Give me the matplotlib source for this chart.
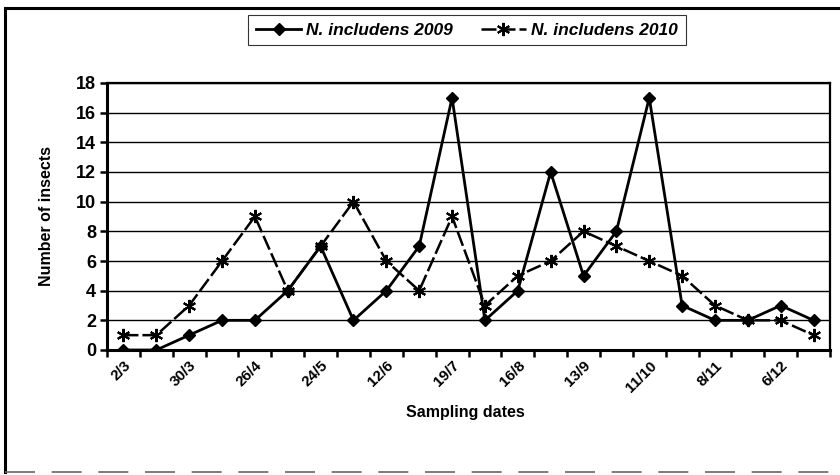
import numpy as np
import matplotlib
matplotlib.use("Agg")
import matplotlib.pyplot as plt
from matplotlib.lines import Line2D

# Data
dates = ["2/3", "30/3", "26/4", "24/5", "12/6", "19/7", "16/8", "13/9", "11/10", "8/11", "6/12"]
insects_2009 = [0, 0, 1, 2, 2, 4, 7, 2, 4, 7, 17, 2, 4, 12, 5, 8, 17, 3, 2, 2, 3, 2]
insects_2010 = [1, 1, 3, 6, 9, 4, 7, 10, 6, 4, 9, 3, 5, 6, 8, 7, 6, 5, 3, 2, 2, 1]

plt.rcParams['font.family'] = ['Liberation Sans', 'DejaVu Sans']

fig = plt.figure(figsize=(8.4, 4.75), dpi=100)
ax = fig.add_axes([107 / 840, 125 / 475, 723 / 840, 267 / 475])

x = np.arange(len(insects_2009))
l1, = ax.plot(x, insects_2009, color="black", lw=2, marker="D", ms=6,
              label="N. includens 2009", zorder=4)
l2, = ax.plot(x, insects_2010, color="black", lw=1.8, dashes=(6, 1.6),
              marker=(6, 2, 0), ms=9.5, mew=1.5, label="N. includens 2010", zorder=3)

ax.set_xlim(-0.5, len(x) - 0.5)
ax.set_ylim(0, 18)
ax.set_yticks(np.arange(0, 19, 2))
ax.yaxis.grid(True, color="black", lw=1)
ax.set_axisbelow(True)

# categories: ticks between points, label on every second point
ax.set_xticks(np.arange(0, len(x), 2))
ax.set_xticklabels(dates, rotation=45, ha="right", rotation_mode="anchor",
                   fontsize=11, fontweight="bold")
ax.set_xticks(np.arange(-0.5, len(x), 1), minor=True)
ax.tick_params(axis="x", which="major", length=0, pad=6)
ax.tick_params(axis="x", which="minor", length=5, width=1.8, direction="out")
ax.tick_params(axis="y", length=5, width=1.8, direction="out", labelsize=13, pad=3)
for lab in ax.get_yticklabels():
    lab.set_fontweight("bold")

for side in ["left", "bottom"]:
    ax.spines[side].set_linewidth(2.2)
for side in ["top", "right"]:
    ax.spines[side].set_linewidth(1.6)

ax.set_ylabel("Number of insects", fontsize=11.5, fontweight="bold", labelpad=16)
fig.text(465 / 840, 1 - 413 / 475, "Sampling dates", ha="center", va="center",
         fontsize=11.5, fontweight="bold")

leg = fig.legend(handles=[l1, l2], loc="center", bbox_to_anchor=(467 / 840, 1 - 30 / 475),
                 ncol=2, frameon=True, fancybox=False, handlelength=2.6, columnspacing=1.6,
                 handletextpad=0.3, borderpad=0.45,
                 prop={"style": "italic", "weight": "bold", "size": 12.5})
leg.get_frame().set_edgecolor("black")
leg.get_frame().set_linewidth(0.8)

# outer chart border (left, top, bottom)
fig.add_artist(Line2D([5 / 840, 5 / 840], [1 - 8 / 475, 1 - 472 / 475], color="black", lw=2.2))
fig.add_artist(Line2D([5 / 840, 1.0], [1 - 8 / 475, 1 - 8 / 475], color="black", lw=2.2))
fig.add_artist(Line2D([5 / 840, 1.0], [1 - 472 / 475, 1 - 472 / 475], color="0.4", lw=1.2,
                      dashes=(18, 10)))

fig.savefig("out.png", dpi=100)
